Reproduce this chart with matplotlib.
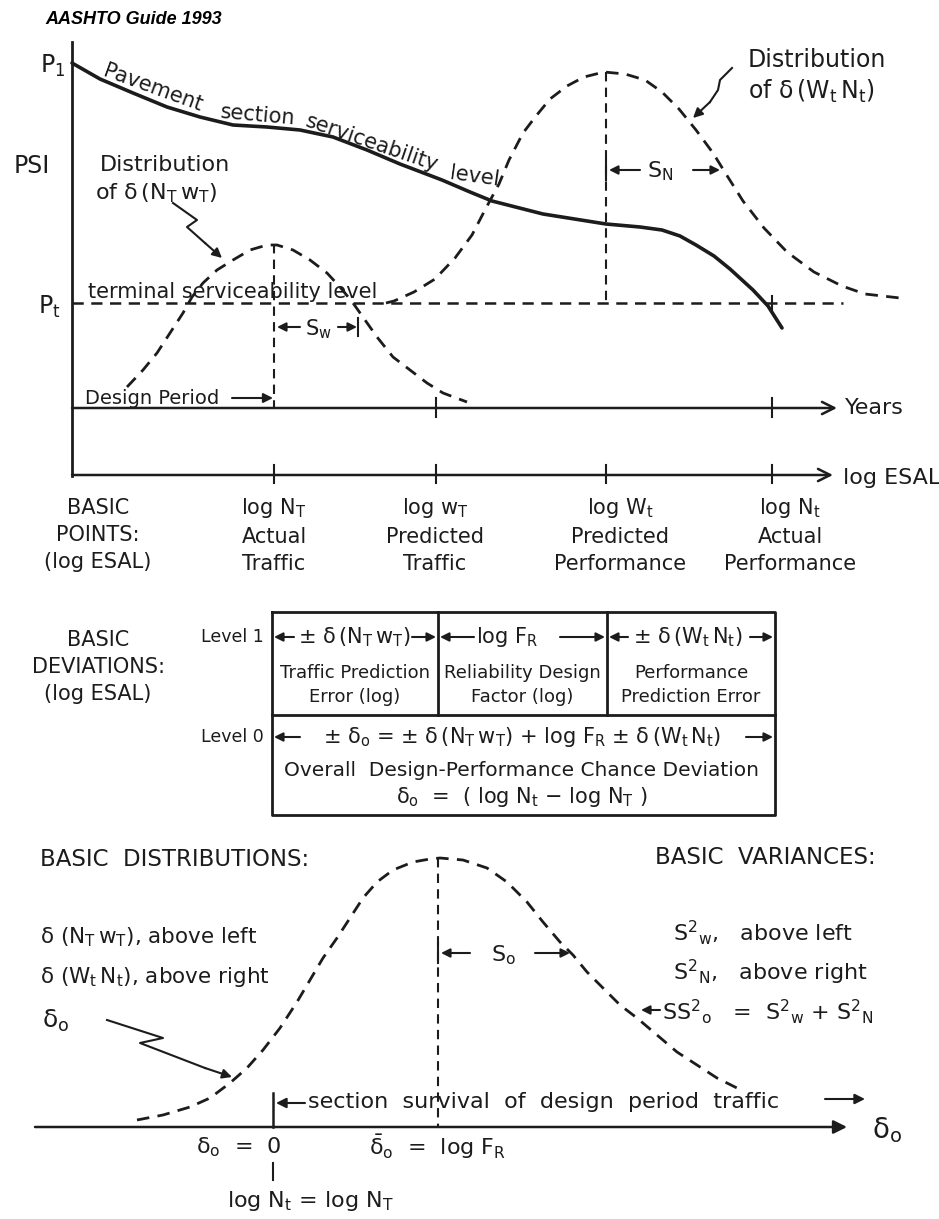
import matplotlib.pyplot as plt

plt.rcParams['font.family'] = 'DejaVu Sans'
plt.rcParams['mathtext.fontset'] = 'dejavusans'
plt.rcParams['mathtext.default'] = 'regular'

INK = '#1c1c1c'

# all positions (pixels, y down)
service_x = [72, 100, 133, 167, 200, 233, 267, 300, 333, 367, 400, 442, 470,
             492, 543, 606, 640, 662, 680, 696, 714, 730, 753, 768, 782]
service_y = [63, 79, 93, 107, 117, 125, 127, 130, 137, 150, 164, 180, 192,
             201, 214, 224, 227, 230, 236, 245, 256, 269, 290, 306, 328]

left_bell_x = [127, 143, 157, 170, 183, 192, 203, 217, 233, 250, 267, 277,
               293, 310, 327, 340, 353, 365, 377, 393, 410, 427, 443, 467]
left_bell_y = [387, 370, 353, 333, 313, 297, 283, 270, 260, 250, 245, 245,
               250, 260, 273, 287, 303, 320, 337, 357, 370, 383, 393, 402]

right_bell_x = [386, 394, 414, 435, 455, 472, 486, 499, 509, 523, 536, 550,
                567, 584, 604, 625, 645, 662, 679, 696, 713, 726, 743, 764,
                787, 814, 842, 865, 900]
right_bell_y = [303, 301, 292, 279, 258, 235, 208, 184, 160, 133, 116, 99,
                86, 77, 72, 74, 80, 92, 109, 130, 153, 174, 201, 228,
                252, 272, 286, 294, 298]

bottom_bell_x = [137, 163, 190, 210, 230, 247, 263, 280, 297, 310, 323, 337,
                 350, 363, 377, 393, 413, 430, 440, 463, 487, 507, 527, 543,
                 560, 573, 587, 603, 620, 637, 657, 677, 697, 717, 737]
bottom_bell_y = [1120, 1115, 1107, 1098, 1083, 1068, 1050, 1028, 1002, 980,
                 958, 938, 918, 898, 882, 870, 862, 859, 858, 860, 868, 882,
                 902, 922, 942, 955, 972, 988, 1005, 1018, 1035, 1052, 1065,
                 1078, 1088]

# basic points on the log ESAL axis
point_x = [98, 274, 435, 620, 790]
point_labels = ['BASIC\nPOINTS:\n(log ESAL)',
                'log $N_T$\nActual\nTraffic',
                'log $w_T$\nPredicted\nTraffic',
                'log $W_t$\nPredicted\nPerformance',
                'log $N_t$\nActual\nPerformance']
esal_ticks = [274, 436, 606, 772]
year_ticks = [436, 772]

fig = plt.figure(figsize=(9.39, 12.19), dpi=100)
ax = fig.add_axes([0, 0, 1, 1])
ax.set_xlim(0, 939)
ax.set_ylim(1219, 0)
ax.axis('off')

DASH = (0, (4.5, 3))


def arrow(x0, y0, x1, y1, style='-|>', lw=1.6, ms=14):
    ax.annotate('', xy=(x1, y1), xytext=(x0, y0),
                arrowprops=dict(arrowstyle=style, color=INK, lw=lw,
                                mutation_scale=ms, shrinkA=0, shrinkB=0))


def txt(x, y, s, size=15, **kw):
    kw.setdefault('ha', 'left')
    kw.setdefault('va', 'center')
    ax.text(x, y, s, fontsize=size, color=INK, **kw)


ax.text(45, 20, 'AASHTO Guide 1993', fontsize=13, fontweight='bold',
        fontstyle='italic', family='Liberation Sans', va='center', color='k')

# ---------- upper chart ----------
ax.plot([72, 72], [42, 476], color=INK, lw=2)
arrow(72, 475, 833, 475, style='->', lw=1.8, ms=22)
arrow(72, 408, 837, 408, style='->', lw=1.8, ms=22)
for t in esal_ticks:
    ax.plot([t, t], [465, 483], color=INK, lw=1.5)
for t in year_ticks:
    ax.plot([t, t], [398, 417], color=INK, lw=1.5)
txt(843, 478, 'log ESAL', size=16)
txt(845, 408, 'Years', size=16)

ax.plot(service_x, service_y, color=INK, lw=2.6, solid_capstyle='round',
        solid_joinstyle='round')
ax.plot([72, 843], [303, 303], color=INK, lw=1.8, ls=DASH)
ax.plot(left_bell_x, left_bell_y, color=INK, lw=2, ls=DASH)
ax.plot(right_bell_x, right_bell_y, color=INK, lw=2, ls=DASH)
ax.plot([274, 274], [244, 408], color=INK, lw=1.5, ls=DASH)
ax.plot([606, 606], [72, 303], color=INK, lw=1.5, ls=DASH)
ax.plot([772, 772], [296, 311], color=INK, lw=1.5)

txt(40, 66, '$P_1$', size=17)
txt(14, 166, 'PSI', size=17)
txt(38, 307, '$P_t$', size=17)

txt(100, 165, 'Distribution', size=16)
txt(95, 193, 'of $\\delta\\,(N_T\\,w_T)$', size=16)
ax.plot([173, 197, 187, 205], [203, 220, 227, 243], color=INK, lw=1.5)
arrow(205, 243, 222, 258, lw=1.5, ms=14)

txt(748, 60, 'Distribution', size=17)
txt(748, 91, 'of $\\delta\\,(W_t\\,N_t)$', size=17)
ax.plot([732, 720, 718, 710], [68, 80, 90, 102], color=INK, lw=1.5)
arrow(710, 102, 693, 118, lw=1.5, ms=14)

txt(153, 88, 'Pavement', size=15, ha='center', rotation=-20)
txt(258, 115, 'section', size=15, ha='center', rotation=-5)
txt(372, 143, 'serviceability', size=15, ha='center', rotation=-19)
txt(475, 177, 'level', size=15, ha='center', rotation=-8)
txt(88, 292, 'terminal serviceability level', size=15)

# S_w and S_N spreads
ax.plot([358, 358], [318, 336], color=INK, lw=1.5)
arrow(300, 327, 277, 327, lw=1.5, ms=13)
txt(318, 329, '$S_w$', size=15, ha='center')
arrow(338, 327, 357, 327, lw=1.5, ms=13)
ax.plot([606, 606], [160, 180], color=INK, lw=1.5)
arrow(640, 170, 609, 170, lw=1.5, ms=13)
txt(660, 171, '$S_N$', size=16, ha='center')
arrow(693, 170, 720, 170, lw=1.5, ms=13)

txt(85, 398, 'Design Period', size=14)
arrow(232, 398, 273, 398, lw=1.5, ms=14)

for px, lab in zip(point_x, point_labels):
    ax.text(px, 535, lab, fontsize=15, color=INK, ha='center', va='center',
            linespacing=1.45)

# ---------- basic deviations table ----------
ax.text(98, 667, 'BASIC\nDEVIATIONS:\n(log ESAL)', fontsize=15, color=INK,
        ha='center', va='center', linespacing=1.45)
box_l, box_r, box_t, box_m, box_b = 272, 775, 612, 715, 815
cell_div = [438, 607]
ax.plot([box_l, box_r, box_r, box_l, box_l],
        [box_t, box_t, box_b, box_b, box_t], color=INK, lw=2)
ax.plot([box_l, box_r], [box_m, box_m], color=INK, lw=2)
for d in cell_div:
    ax.plot([d, d], [box_t, box_m], color=INK, lw=2)

txt(232, 637, 'Level 1', size=12.5, ha='center')
txt(232, 737, 'Level 0', size=12.5, ha='center')

row1 = [(354, '$\\pm\\ \\delta\\,(N_T\\,w_T)$', 294, 412),
        (507, 'log $F_R$', 474, 560),
        (688, '$\\pm\\ \\delta\\,(W_t\\,N_t)$', 628, 750)]
lefts = [box_l, cell_div[0], cell_div[1]]
rights = [cell_div[0], cell_div[1], box_r]
for (cx, s, a0, a1), l, r in zip(row1, lefts, rights):
    txt(cx, 637, s, size=15, ha='center')
    arrow(a0, 637, l + 2, 637, lw=1.5, ms=13)
    arrow(a1, 637, r - 2, 637, lw=1.5, ms=13)
cell_text = ['Traffic Prediction\nError (log)',
             'Reliability Design\nFactor (log)',
             'Performance\nPrediction Error']
for l, r, s in zip(lefts, rights, cell_text):
    ax.text((l + r) / 2, 685, s, fontsize=13, color=INK, ha='center',
            va='center', linespacing=1.45)

txt(522, 737, '$\\pm\\ \\delta_o$ = $\\pm\\ \\delta\\,(N_T\\,w_T)$ + log $F_R$'
    ' $\\pm\\ \\delta\\,(W_t\\,N_t)$', size=15, ha='center')
arrow(300, 737, box_l + 2, 737, lw=1.5, ms=13)
arrow(746, 737, box_r - 2, 737, lw=1.5, ms=13)
txt(522, 770, 'Overall  Design-Performance Chance Deviation', size=14.5,
    ha='center')
txt(522, 797, '$\\delta_o$  =  ( log $N_t$ $-$ log $N_T$ )', size=15,
    ha='center')

# ---------- basic distributions ----------
txt(40, 860, 'BASIC  DISTRIBUTIONS:', size=16.5)
txt(655, 858, 'BASIC  VARIANCES:', size=16.5)
txt(40, 937, '$\\delta\\ (N_T\\,w_T)$, above left', size=15.5)
txt(40, 977, '$\\delta\\ (W_t\\,N_t)$, above right', size=15.5)
txt(42, 1021, '$\\delta_o$', size=18)
ax.plot([107, 163, 140, 205], [1020, 1038, 1043, 1068], color=INK, lw=1.5)
arrow(205, 1068, 232, 1077, lw=1.5, ms=14)

ax.plot(bottom_bell_x, bottom_bell_y, color=INK, lw=2, ls=DASH)
ax.plot([438, 438], [858, 1127], color=INK, lw=1.5, ls=DASH)
arrow(35, 1127, 847, 1127, lw=1.8, ms=20)
txt(872, 1130, '$\\delta_o$', size=20)

ax.plot([438, 438], [943, 963], color=INK, lw=1.5)
arrow(470, 953, 441, 953, lw=1.5, ms=13)
txt(503, 955, '$S_o$', size=16, ha='center')
arrow(535, 953, 570, 953, lw=1.5, ms=13)

txt(673, 933, '$S^2{}_w$,   above left', size=16)
txt(673, 972, '$S^2{}_N$,   above right', size=16)
arrow(660, 1010, 641, 1010, lw=1.5, ms=13)
txt(662, 1012, '$S S^2{}_o$   =  $S^2{}_w$ + $S^2{}_N$', size=16)

ax.plot([273, 273], [1093, 1127], color=INK, lw=1.8)
arrow(305, 1103, 276, 1103, lw=1.5, ms=15)
txt(308, 1102, 'section  survival  of  design  period  traffic', size=16)
arrow(825, 1099, 865, 1099, lw=1.5, ms=15)

txt(239, 1147, '$\\delta_o$  =  0', size=16, ha='center')
txt(438, 1147, '$\\bar{\\delta}_o$  =  log $F_R$', size=16, ha='center')
ax.plot([273, 273], [1163, 1180], color=INK, lw=1.5)
txt(310, 1201, 'log $N_t$ = log $N_T$', size=16, ha='center')

fig.savefig('out.png', dpi=100, facecolor='white')
